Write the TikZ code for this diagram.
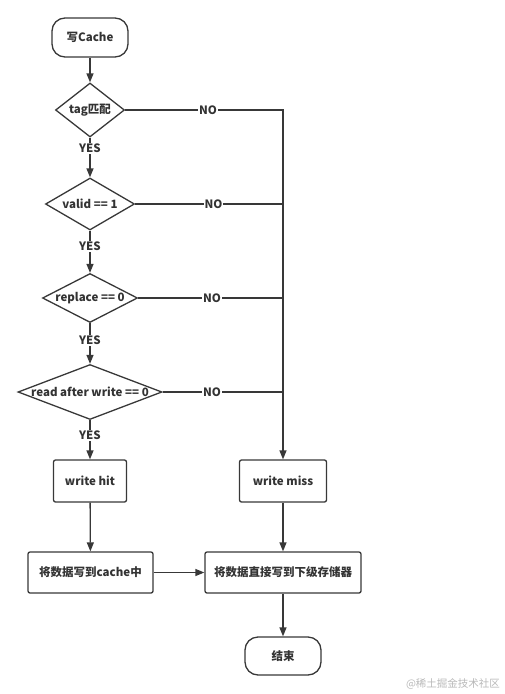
\documentclass[tikz,border=0pt]{standalone}
\usepackage{fontspec}
\setmainfont{Noto Sans CJK SC}
\usetikzlibrary{shapes.geometric,arrows.meta}

\begin{document}
\begin{tikzpicture}[x=1pt,y=-1pt,
    every node/.style={font=\bfseries\fontsize{11.5}{13}\selectfont, text=black!80},
    line/.style={draw=black!78, line width=1.3pt},
    arr/.style={line, -{Triangle[length=9pt,width=7pt]}},
    term/.style={line, rectangle, rounded corners=13pt, inner sep=0pt},
    proc/.style={line, rectangle, rounded corners=2pt, inner sep=0pt},
    dec/.style={line, diamond, inner sep=0pt},
    lab/.style={fill=white, inner sep=1pt}]

\useasboundingbox (0,0) rectangle (504,694);

% ==== 左列：判断 ====
\node[term, minimum width=76pt, minimum height=39pt] (start) at (90,37.5) {写Cache};
\node[dec, minimum width=69pt, minimum height=54pt, label=center:{tag匹配}] (d1) at (90,110) {};
\node[dec, minimum width=89pt, minimum height=52pt, label=center:{valid == 1}] (d2) at (90,204) {};
\node[dec, minimum width=95pt, minimum height=49pt, label=center:{replace == 0}] (d3) at (90,298) {};
\node[dec, minimum width=144pt, minimum height=55pt, label=center:{read after write == 0}] (d4) at (90,392) {};

% ==== 下半部分：处理框 ====
\node[proc, minimum width=73pt, minimum height=42pt] (hit) at (90,481) {write hit};
\node[proc, minimum width=87pt, minimum height=42pt] (miss) at (283,481) {write miss};
\node[proc, minimum width=125pt, minimum height=41pt] (cache) at (90.5,572.5) {将数据写到cache中};
\node[proc, minimum width=156pt, minimum height=41pt] (direct) at (283,572.5) {将数据直接写到下级存储器};
\node[term, minimum width=76pt, minimum height=38pt] (stop) at (283,656) {结束};

% 水印
\node[font=\fontsize{10.5}{12}\selectfont, text=black!28] (wm) at (453,684) {@稀土掘金技术社区};

% ==== YES 分支 ====
\draw[arr] (start) -- (d1);
\draw[arr] (d1) -- node[lab, pos=0.27] {YES} (d2);
\draw[arr] (d2) -- node[lab, pos=0.37] {YES} (d3);
\draw[arr] (d3) -- node[lab, pos=0.43] {YES} (d4);
\draw[arr] (d4) -- node[lab, pos=0.39] {YES} (hit);

% ==== NO 分支 ====
\draw[arr] (d1.east) -- node[lab, pos=0.525] {NO} (d1.east -| miss) -- (miss);
\draw[line] (d2.east) -- node[lab, pos=0.53] {NO} (d2.east -| miss);
\draw[line] (d3.east) -- node[lab, pos=0.51] {NO} (d3.east -| miss);
\draw[line] (d4.east) -- node[lab, pos=0.41] {NO} (d4.east -| miss);

% ==== 写回 ====
\draw[arr] (hit) -- (cache);
\draw[arr] (cache) -- (direct);
\draw[arr] (miss) -- (direct);
\draw[arr] (direct) -- (stop);

\end{tikzpicture}
\end{document}
